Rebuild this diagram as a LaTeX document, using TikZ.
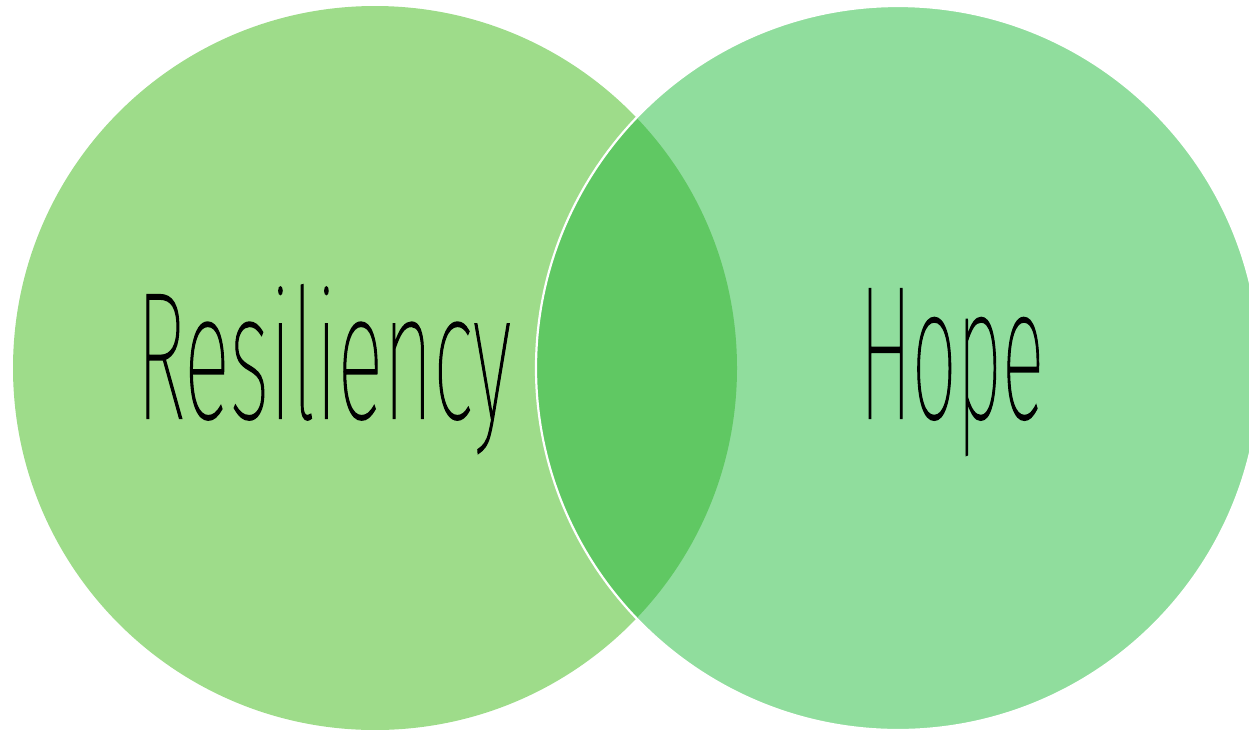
\documentclass[tikz,border=0pt]{standalone}
\usepackage{fontspec}
\IfFontExistsTF{Fira Sans Thin}{\newfontfamily\thinfont[FakeBold=1.2]{Fira Sans Thin}}{%
 \IfFontExistsTF{Fira Sans ExtraLight}{\newfontfamily\thinfont[FakeBold=1.2]{Fira Sans ExtraLight}}{%
  \IfFontExistsTF{Lato Hairline}{\newfontfamily\thinfont[FakeBold=1.2]{Lato Hairline}}{%
   \IfFontExistsTF{DejaVu Sans ExtraLight}{\newfontfamily\thinfont[FakeBold=1.2]{DejaVu Sans ExtraLight}}{%
    \IfFontExistsTF{Fira Sans Light}{\newfontfamily\thinfont{Fira Sans Light}}{%
     \newfontfamily\thinfont{Liberation Sans}}}}}}
\definecolor{leftc}{HTML}{9EDC8A}
\definecolor{rightc}{HTML}{90DD9D}
\definecolor{overc}{HTML}{60C863}
\begin{document}
\begin{tikzpicture}[x=1pt,y=-1pt,
  lbl/.style={anchor=base west,inner sep=0pt,text=black,font=\thinfont\fontsize{100}{100}\selectfont}]
\useasboundingbox (0,0) rectangle (1249,729);
\fill[leftc] (375,368) circle[radius=362pt];
\fill[rightc] (898,368) circle[radius=362pt];
\begin{scope}
  \clip (375,368) circle[radius=362pt];
  \fill[overc] (898,368) circle[radius=362pt];
\end{scope}
\draw[white,line width=2.2pt] (898,368) circle[radius=362pt];
\node[lbl] (res) at (136,418) {\resizebox{375pt}{133pt}{Resiliency}};
\node[lbl] (hope) at (859,418) {\resizebox{185pt}{129pt}{Hope}};
\end{tikzpicture}
\end{document}
